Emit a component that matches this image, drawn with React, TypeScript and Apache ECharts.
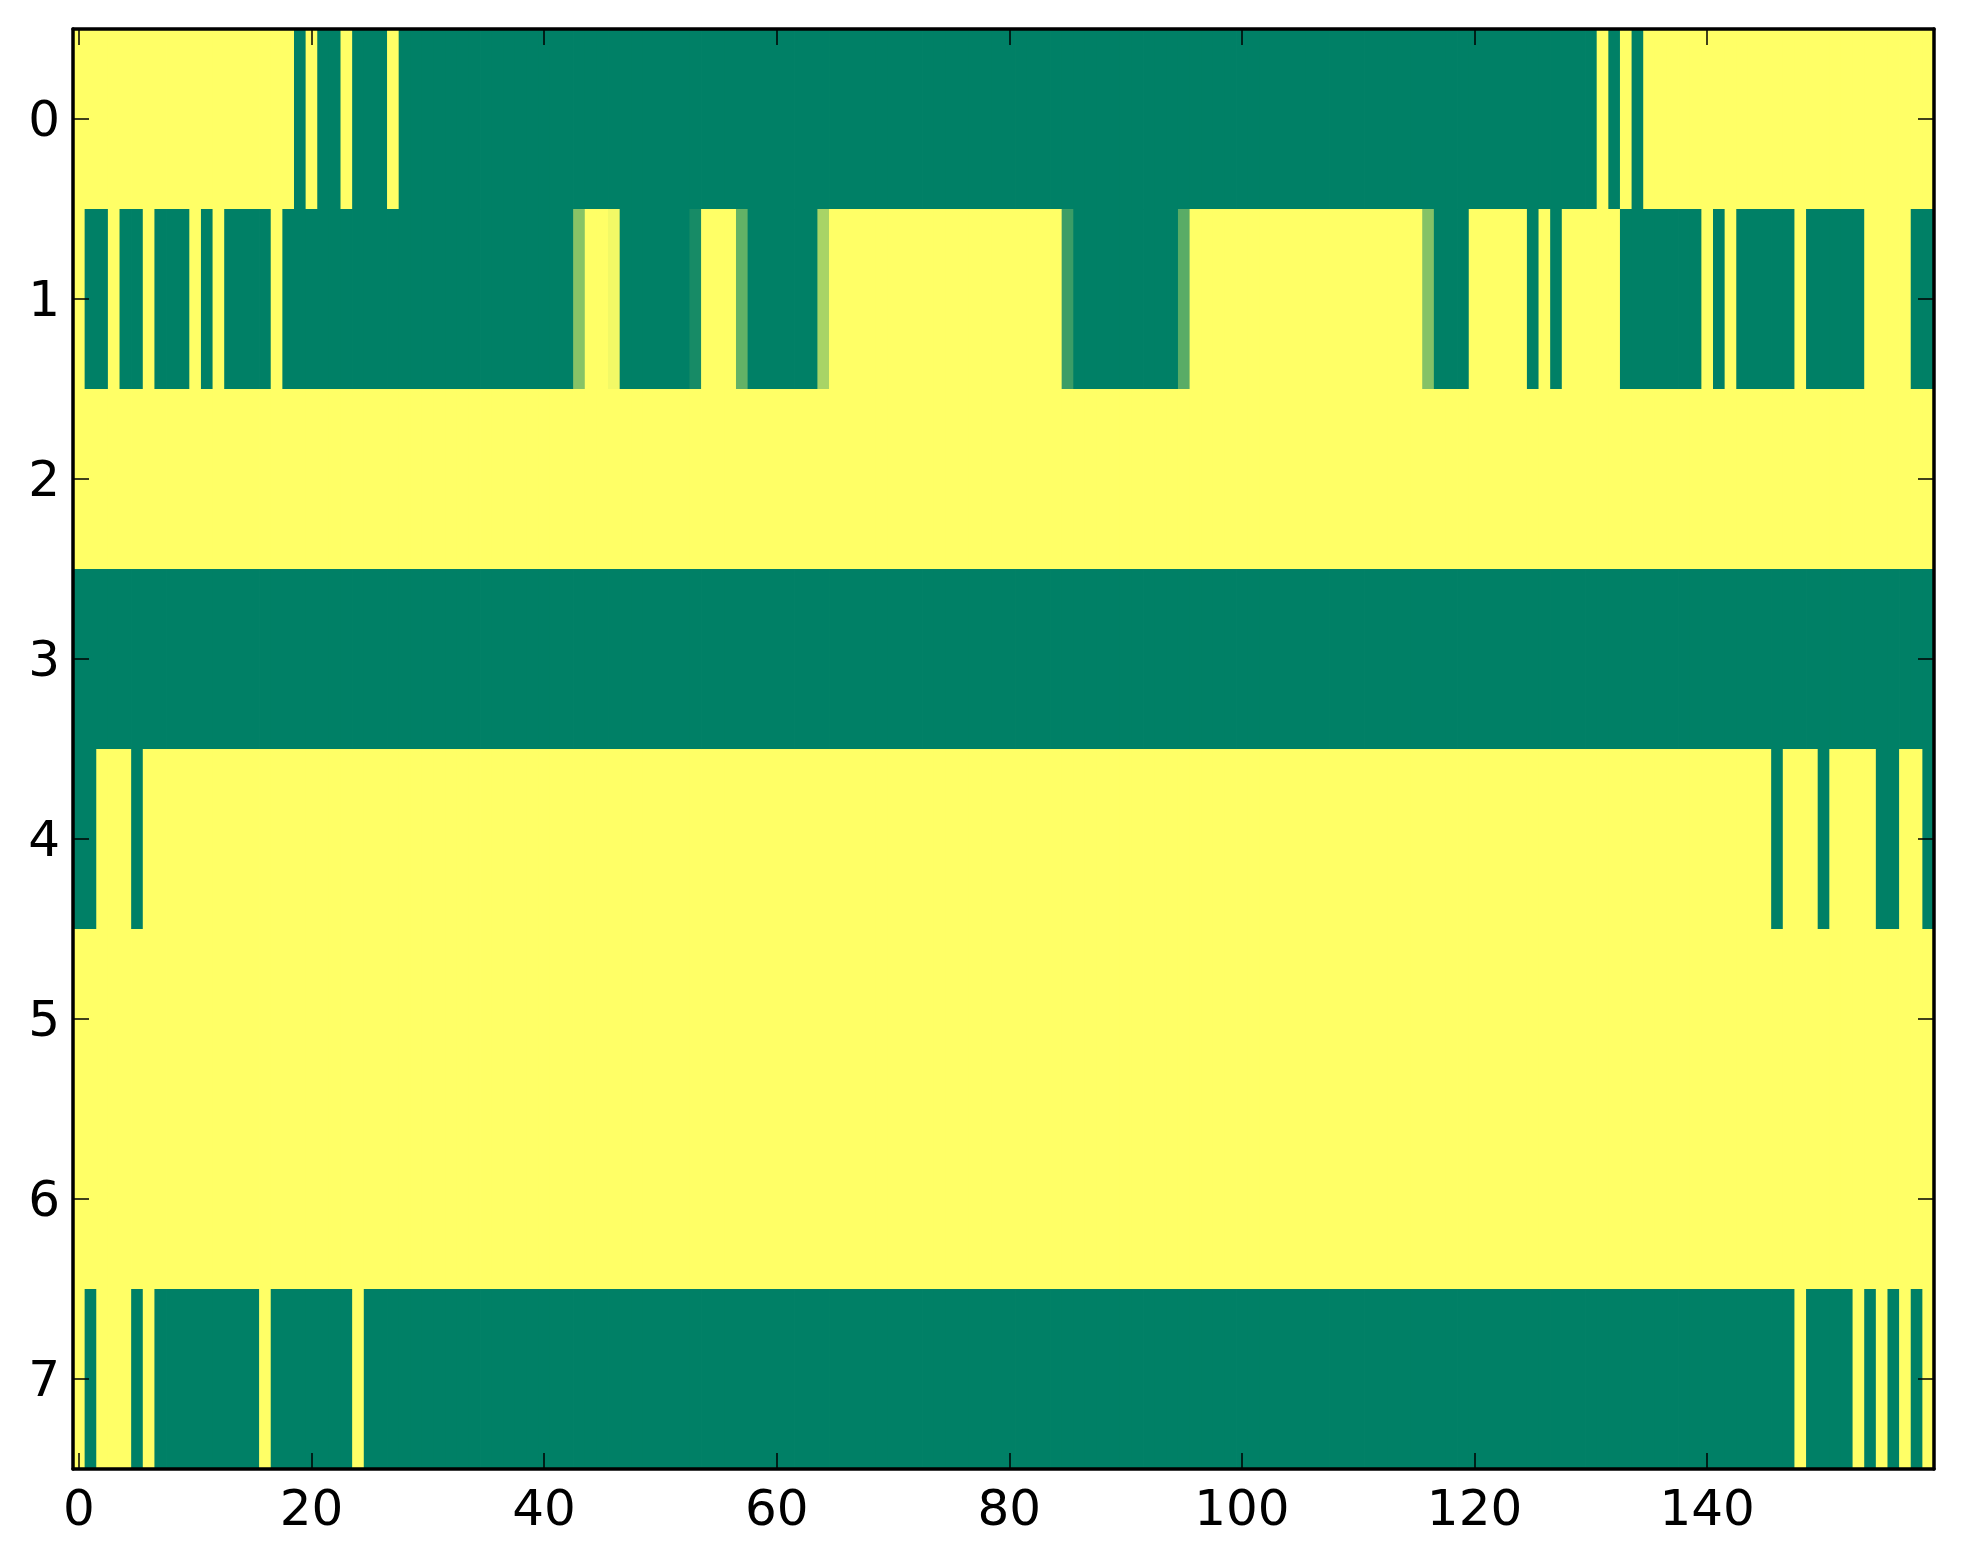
import React, { useEffect, useRef } from "react";
import * as echarts from "echarts";

// Column categories (0..159) and row categories (0..7)
const xCategories: string[] = Array.from({ length: 160 }, (_, i) => String(i));
const yCategories: string[] = ["0", "1", "2", "3", "4", "5", "6", "7"];
const xTickLabels: number[] = [0, 20, 40, 60, 80, 100, 120, 140];

// Cell values per row (0 = dark green, 1 = yellow)
const row0: number[] = [
  1, 1, 1, 1, 1, 1, 1, 1, 1, 1, 1, 1, 1, 1, 1, 1, 1, 1, 1, 0,
  1, 0, 0, 1, 0, 0, 0, 1, 0, 0, 0, 0, 0, 0, 0, 0, 0, 0, 0, 0,
  0, 0, 0, 0, 0, 0, 0, 0, 0, 0, 0, 0, 0, 0, 0, 0, 0, 0, 0, 0,
  0, 0, 0, 0, 0, 0, 0, 0, 0, 0, 0, 0, 0, 0, 0, 0, 0, 0, 0, 0,
  0, 0, 0, 0, 0, 0, 0, 0, 0, 0, 0, 0, 0, 0, 0, 0, 0, 0, 0, 0,
  0, 0, 0, 0, 0, 0, 0, 0, 0, 0, 0, 0, 0, 0, 0, 0, 0, 0, 0, 0,
  0, 0, 0, 0, 0, 0, 0, 0, 0, 0, 0, 1, 0, 1, 0, 1, 1, 1, 1, 1,
  1, 1, 1, 1, 1, 1, 1, 1, 1, 1, 1, 1, 1, 1, 1, 1, 1, 1, 1, 1,
];
const row1: number[] = [
  1, 0, 0, 1, 0, 0, 1, 0, 0, 0, 1, 0, 1, 0, 0, 0, 0, 1, 0, 0,
  0, 0, 0, 0, 0, 0, 0, 0, 0, 0, 0, 0, 0, 0, 0, 0, 0, 0, 0, 0,
  0, 0, 0, 0.53, 1, 1, 0.95, 0, 0, 0, 0, 0, 0, 0.09, 1, 1, 1, 0.39, 0, 0,
  0, 0, 0, 0, 0.66, 1, 1, 1, 1, 1, 1, 1, 1, 1, 1, 1, 1, 1, 1, 1,
  1, 1, 1, 1, 1, 0.23, 0, 0, 0, 0, 0, 0, 0, 0, 0, 0.35, 1, 1, 1, 1,
  1, 1, 1, 1, 1, 1, 1, 1, 1, 1, 1, 1, 1, 1, 1, 1, 0.52, 0, 0, 0,
  1, 1, 1, 1, 1, 0, 1, 0, 1, 1, 1, 1, 1, 0, 0, 0, 0, 0, 0, 0,
  1, 0, 1, 0, 0, 0, 0, 0, 1, 0, 0, 0, 0, 0, 1, 1, 1, 1, 0, 0,
];
const row2: number[] = [
  1, 1, 1, 1, 1, 1, 1, 1, 1, 1, 1, 1, 1, 1, 1, 1, 1, 1, 1, 1,
  1, 1, 1, 1, 1, 1, 1, 1, 1, 1, 1, 1, 1, 1, 1, 1, 1, 1, 1, 1,
  1, 1, 1, 1, 1, 1, 1, 1, 1, 1, 1, 1, 1, 1, 1, 1, 1, 1, 1, 1,
  1, 1, 1, 1, 1, 1, 1, 1, 1, 1, 1, 1, 1, 1, 1, 1, 1, 1, 1, 1,
  1, 1, 1, 1, 1, 1, 1, 1, 1, 1, 1, 1, 1, 1, 1, 1, 1, 1, 1, 1,
  1, 1, 1, 1, 1, 1, 1, 1, 1, 1, 1, 1, 1, 1, 1, 1, 1, 1, 1, 1,
  1, 1, 1, 1, 1, 1, 1, 1, 1, 1, 1, 1, 1, 1, 1, 1, 1, 1, 1, 1,
  1, 1, 1, 1, 1, 1, 1, 1, 1, 1, 1, 1, 1, 1, 1, 1, 1, 1, 1, 1,
];
const row3: number[] = [
  0, 0, 0, 0, 0, 0, 0, 0, 0, 0, 0, 0, 0, 0, 0, 0, 0, 0, 0, 0,
  0, 0, 0, 0, 0, 0, 0, 0, 0, 0, 0, 0, 0, 0, 0, 0, 0, 0, 0, 0,
  0, 0, 0, 0, 0, 0, 0, 0, 0, 0, 0, 0, 0, 0, 0, 0, 0, 0, 0, 0,
  0, 0, 0, 0, 0, 0, 0, 0, 0, 0, 0, 0, 0, 0, 0, 0, 0, 0, 0, 0,
  0, 0, 0, 0, 0, 0, 0, 0, 0, 0, 0, 0, 0, 0, 0, 0, 0, 0, 0, 0,
  0, 0, 0, 0, 0, 0, 0, 0, 0, 0, 0, 0, 0, 0, 0, 0, 0, 0, 0, 0,
  0, 0, 0, 0, 0, 0, 0, 0, 0, 0, 0, 0, 0, 0, 0, 0, 0, 0, 0, 0,
  0, 0, 0, 0, 0, 0, 0, 0, 0, 0, 0, 0, 0, 0, 0, 0, 0, 0, 0, 0,
];
const row4: number[] = [
  0, 0, 1, 1, 1, 0, 1, 1, 1, 1, 1, 1, 1, 1, 1, 1, 1, 1, 1, 1,
  1, 1, 1, 1, 1, 1, 1, 1, 1, 1, 1, 1, 1, 1, 1, 1, 1, 1, 1, 1,
  1, 1, 1, 1, 1, 1, 1, 1, 1, 1, 1, 1, 1, 1, 1, 1, 1, 1, 1, 1,
  1, 1, 1, 1, 1, 1, 1, 1, 1, 1, 1, 1, 1, 1, 1, 1, 1, 1, 1, 1,
  1, 1, 1, 1, 1, 1, 1, 1, 1, 1, 1, 1, 1, 1, 1, 1, 1, 1, 1, 1,
  1, 1, 1, 1, 1, 1, 1, 1, 1, 1, 1, 1, 1, 1, 1, 1, 1, 1, 1, 1,
  1, 1, 1, 1, 1, 1, 1, 1, 1, 1, 1, 1, 1, 1, 1, 1, 1, 1, 1, 1,
  1, 1, 1, 1, 1, 1, 0, 1, 1, 1, 0, 1, 1, 1, 1, 0, 0, 1, 1, 0,
];
const row5: number[] = [
  1, 1, 1, 1, 1, 1, 1, 1, 1, 1, 1, 1, 1, 1, 1, 1, 1, 1, 1, 1,
  1, 1, 1, 1, 1, 1, 1, 1, 1, 1, 1, 1, 1, 1, 1, 1, 1, 1, 1, 1,
  1, 1, 1, 1, 1, 1, 1, 1, 1, 1, 1, 1, 1, 1, 1, 1, 1, 1, 1, 1,
  1, 1, 1, 1, 1, 1, 1, 1, 1, 1, 1, 1, 1, 1, 1, 1, 1, 1, 1, 1,
  1, 1, 1, 1, 1, 1, 1, 1, 1, 1, 1, 1, 1, 1, 1, 1, 1, 1, 1, 1,
  1, 1, 1, 1, 1, 1, 1, 1, 1, 1, 1, 1, 1, 1, 1, 1, 1, 1, 1, 1,
  1, 1, 1, 1, 1, 1, 1, 1, 1, 1, 1, 1, 1, 1, 1, 1, 1, 1, 1, 1,
  1, 1, 1, 1, 1, 1, 1, 1, 1, 1, 1, 1, 1, 1, 1, 1, 1, 1, 1, 1,
];
const row6: number[] = [
  1, 1, 1, 1, 1, 1, 1, 1, 1, 1, 1, 1, 1, 1, 1, 1, 1, 1, 1, 1,
  1, 1, 1, 1, 1, 1, 1, 1, 1, 1, 1, 1, 1, 1, 1, 1, 1, 1, 1, 1,
  1, 1, 1, 1, 1, 1, 1, 1, 1, 1, 1, 1, 1, 1, 1, 1, 1, 1, 1, 1,
  1, 1, 1, 1, 1, 1, 1, 1, 1, 1, 1, 1, 1, 1, 1, 1, 1, 1, 1, 1,
  1, 1, 1, 1, 1, 1, 1, 1, 1, 1, 1, 1, 1, 1, 1, 1, 1, 1, 1, 1,
  1, 1, 1, 1, 1, 1, 1, 1, 1, 1, 1, 1, 1, 1, 1, 1, 1, 1, 1, 1,
  1, 1, 1, 1, 1, 1, 1, 1, 1, 1, 1, 1, 1, 1, 1, 1, 1, 1, 1, 1,
  1, 1, 1, 1, 1, 1, 1, 1, 1, 1, 1, 1, 1, 1, 1, 1, 1, 1, 1, 1,
];
const row7: number[] = [
  1, 0, 1, 1, 1, 0, 1, 0, 0, 0, 0, 0, 0, 0, 0, 0, 1, 0, 0, 0,
  0, 0, 0, 0, 1, 0, 0, 0, 0, 0, 0, 0, 0, 0, 0, 0, 0, 0, 0, 0,
  0, 0, 0, 0, 0, 0, 0, 0, 0, 0, 0, 0, 0, 0, 0, 0, 0, 0, 0, 0,
  0, 0, 0, 0, 0, 0, 0, 0, 0, 0, 0, 0, 0, 0, 0, 0, 0, 0, 0, 0,
  0, 0, 0, 0, 0, 0, 0, 0, 0, 0, 0, 0, 0, 0, 0, 0, 0, 0, 0, 0,
  0, 0, 0, 0, 0, 0, 0, 0, 0, 0, 0, 0, 0, 0, 0, 0, 0, 0, 0, 0,
  0, 0, 0, 0, 0, 0, 0, 0, 0, 0, 0, 0, 0, 0, 0, 0, 0, 0, 0, 0,
  0, 0, 0, 0, 0, 0, 0, 0, 1, 0, 0, 0, 0, 1, 0, 1, 0, 1, 0, 1,
];

const rows: number[][] = [row0, row1, row2, row3, row4, row5, row6, row7];

const FONT = "DejaVu Sans";

export default function App() {
  const ref = useRef<HTMLDivElement>(null);

  useEffect(() => {
    if (!ref.current) return;
    const chart = echarts.init(ref.current, undefined, { renderer: "svg" });

    const data: [number, number, number][] = [];
    rows.forEach((r, yi) => r.forEach((v, xi) => data.push([xi, yi, v])));

    const showX = (i: number) => xTickLabels.indexOf(i) >= 0;

    const axisLine = { show: true, onZero: false, lineStyle: { color: "#000", width: 3.5 } };
    const tickStyle = { color: "#000", width: 1.5 };

    chart.setOption({
      animation: false,
      backgroundColor: "#ffffff",
      grid: { left: 73, top: 29, width: 1861, height: 1440, containLabel: false },
      xAxis: [
        {
          type: "category",
          data: xCategories,
          position: "bottom",
          boundaryGap: true,
          axisLine,
          axisTick: { show: true, inside: true, length: 16, alignWithLabel: true, interval: (i: number) => showX(i), lineStyle: tickStyle },
          axisLabel: { show: true, interval: (i: number) => showX(i), margin: 14, fontFamily: FONT, fontSize: 50, color: "#000" },
          splitLine: { show: false },
          z: 10,
        },
        {
          type: "category",
          data: xCategories,
          position: "top",
          boundaryGap: true,
          axisLine,
          axisTick: { show: true, inside: true, length: 16, alignWithLabel: true, interval: (i: number) => showX(i), lineStyle: tickStyle },
          axisLabel: { show: false },
          splitLine: { show: false },
          z: 10,
        },
      ],
      yAxis: [
        {
          type: "category",
          data: yCategories,
          inverse: true,
          position: "left",
          boundaryGap: true,
          axisLine,
          axisTick: { show: true, inside: true, length: 16, alignWithLabel: true, interval: 0, lineStyle: tickStyle },
          axisLabel: { show: true, interval: 0, margin: 13, fontFamily: FONT, fontSize: 50, color: "#000" },
          splitLine: { show: false },
          z: 10,
        },
        {
          type: "category",
          data: yCategories,
          inverse: true,
          position: "right",
          boundaryGap: true,
          axisLine,
          axisTick: { show: true, inside: true, length: 16, alignWithLabel: true, interval: 0, lineStyle: tickStyle },
          axisLabel: { show: false },
          splitLine: { show: false },
          z: 10,
        },
      ],
      visualMap: {
        type: "continuous",
        show: false,
        min: 0,
        max: 1,
        dimension: 2,
        seriesIndex: 0,
        inRange: { color: ["#008066", "#ffff66"] },
      },
      series: [
        {
          type: "custom",
          xAxisIndex: 0,
          yAxisIndex: 0,
          data,
          encode: { x: 0, y: 1 },
          renderItem: (params: any, api: any) => {
            const p = api.coord([api.value(0), api.value(1)]);
            const s = api.size([1, 1]);
            return {
              type: "rect",
              shape: {
                x: p[0] - s[0] / 2,
                y: p[1] - s[1] / 2,
                width: s[0] + 0.8,
                height: s[1] + 0.8,
              },
              style: { fill: api.visual("color"), stroke: null },
            };
          },
          silent: true,
        },
      ],
    });

    return () => chart.dispose();
  }, []);

  return (
    <div
      ref={ref}
      style={{ position: "absolute", left: 0, top: 0, width: 1963, height: 1564, background: "#fff" }}
    />
  );
}
